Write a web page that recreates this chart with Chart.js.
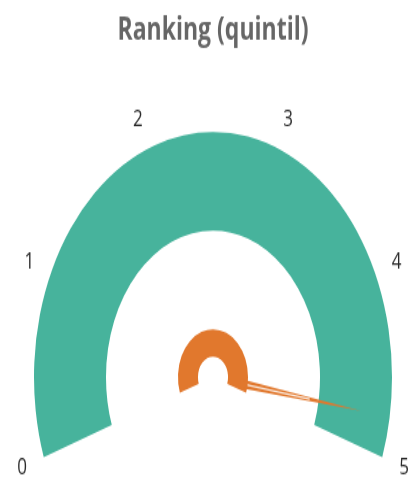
<!DOCTYPE html>
<html>
<head>
<meta charset="utf-8">
<title>Ranking (quintil)</title>
<script src="https://cdn.jsdelivr.net/npm/chart.js@4.4.1/dist/chart.umd.min.js"></script>
<style>
  html, body { margin: 0; padding: 0; background: #fff; overflow: hidden; }
  #wrap { width: 417px; height: 477px; }
  /* the dial is drawn on a shorter canvas and stretched to the full height */
  #gauge { display: block; transform-origin: 0 0; transform: scaleY(1.3707); }
</style>
</head>
<body>
<div id="wrap"><canvas id="gauge" width="417" height="348"></canvas></div>
<script>
// gauge range, current ranking and the tick labels around the dial
const gaugeMin = 0;
const gaugeMax = 5;
const rankingValue = 4.78;
const tickLabels = ['0', '1', '2', '3', '4', '5'];

const TEAL = '#47B39C';
const ORANGE = '#E1782D';

// numbers 0..5 placed just outside the teal band
const tickLabelPlugin = {
  id: 'tickLabels',
  afterDraw(chart) {
    const arc = chart.getDatasetMeta(0).data[0];
    if (!arc) return;
    const { ctx } = chart;
    const { x, y, startAngle, endAngle, outerRadius } =
      arc.getProps(['x', 'y', 'startAngle', 'endAngle', 'outerRadius'], true);
    ctx.save();
    ctx.font = '17px "Open Sans"';
    ctx.fillStyle = '#2b2b2b';
    ctx.textAlign = 'center';
    ctx.textBaseline = 'middle';
    tickLabels.forEach(label => {
      const t = (Number(label) - gaugeMin) / (gaugeMax - gaugeMin);
      const a = startAngle + (endAngle - startAngle) * t;
      const r = outerRadius + 23;
      ctx.fillText(label, x + Math.cos(a) * r, y + Math.sin(a) * r);
    });
    ctx.restore();
  }
};

// needle from the hub towards the current value
const needlePlugin = {
  id: 'needle',
  afterDatasetsDraw(chart) {
    const arc = chart.getDatasetMeta(0).data[0];
    if (!arc) return;
    const { ctx } = chart;
    const { x, y, startAngle, endAngle } =
      arc.getProps(['x', 'y', 'startAngle', 'endAngle'], true);
    const t = (rankingValue - gaugeMin) / (gaugeMax - gaugeMin);
    const a = startAngle + (endAngle - startAngle) * t;
    const cos = Math.cos(a), sin = Math.sin(a);
    const base = 28, tip = 150, half = 3.2;

    ctx.save();
    ctx.translate(x, y);
    ctx.beginPath();
    ctx.moveTo(cos * base - sin * half, sin * base + cos * half);
    ctx.lineTo(cos * tip, sin * tip);
    ctx.lineTo(cos * base + sin * half, sin * base - cos * half);
    ctx.closePath();
    ctx.fillStyle = ORANGE;
    ctx.fill();
    // thin light stripe down the middle of the needle
    ctx.beginPath();
    ctx.moveTo(cos * 35, sin * 35);
    ctx.lineTo(cos * 98, sin * 98);
    ctx.strokeStyle = 'rgba(255,255,255,0.85)';
    ctx.lineWidth = 1.2;
    ctx.stroke();
    ctx.restore();
  }
};

const span = gaugeMax - gaugeMin;

new Chart(document.getElementById('gauge'), {
  type: 'doughnut',
  data: {
    datasets: [
      { data: [span], backgroundColor: [TEAL], weight: 72 },          // dial band
      { data: [span], backgroundColor: ['rgba(0,0,0,0)'], weight: 72 }, // gap
      { data: [span], backgroundColor: [ORANGE], weight: 20 }          // hub
    ]
  },
  options: {
    responsive: false,
    animation: false,
    events: [],
    rotation: -109,
    circumference: 218,
    cutout: '8.4%',
    borderWidth: 0,
    hoverOffset: 0,
    layout: { padding: { left: 34, right: 25, top: 0, bottom: 14 } },
    plugins: {
      legend: { display: false },
      tooltip: { enabled: false },
      title: {
        display: true,
        text: 'Ranking (quintil)',
        color: '#666',
        font: { family: '"Open Sans"', size: 23, weight: '700' },
        padding: { top: 9, bottom: 59 }
      }
    }
  },
  plugins: [tickLabelPlugin, needlePlugin]
});
</script>
</body>
</html>
